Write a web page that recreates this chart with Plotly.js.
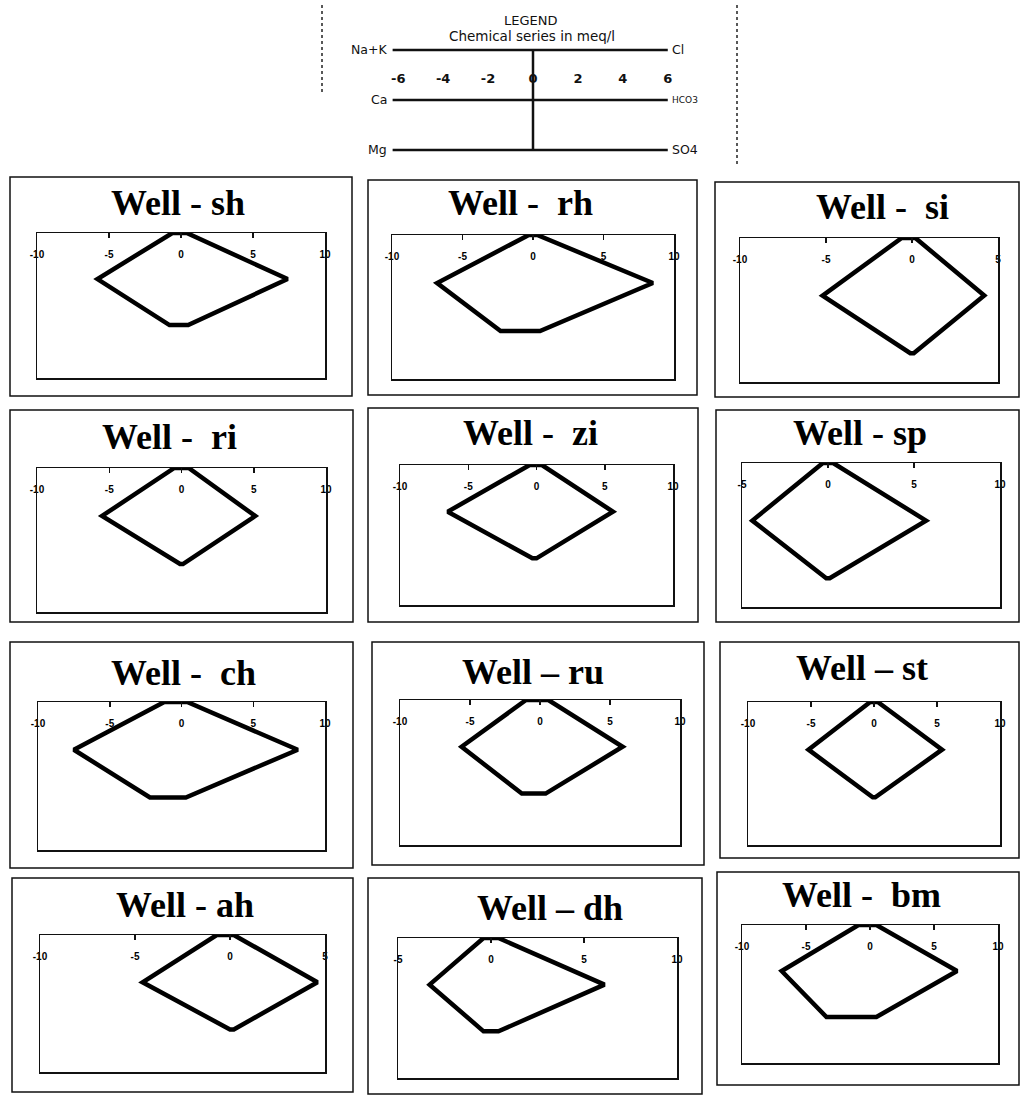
<!DOCTYPE html>
<html>
<head>
<meta charset="utf-8">
<script src="https://cdn.plot.ly/plotly-3.0.1.min.js"></script>
<style>
  body { margin: 0; background: #fff; }
  #grafico { width: 1021px; height: 1095px; }
</style>
</head>
<body>
<div id="grafico"></div>
<script>
const pocos = ["sh", "rh", "si", "ri", "zi", "sp", "ch", "ru", "st", "ah", "dh", "bm"];
const titulos = ["Well - sh", "Well -\u00a0 rh", "Well -\u00a0 si", "Well -\u00a0 ri",
  "Well -\u00a0 zi", "Well - sp", "Well -\u00a0 ch", "Well \u2013 ru", "Well \u2013 st",
  "Well - ah", "Well \u2013 dh", "Well -\u00a0 bm"];

// cations (lado esquerdo)
const naK  = [0.6, 0.3, 0.6, 0.5, 0.5, 0.3, 1.2, 1.0, 0.3, 0.7, 0.4, 0.9];
const ca   = [5.8, 6.8, 5.2, 5.5, 6.5, 4.4, 7.5, 5.6, 5.2, 4.6, 3.3, 6.9];
const mg   = [0.8, 2.3, 0.1, 0.1, 0.3, 0.1, 2.2, 1.3, 0.1, 0.0, 0.4, 3.4];
// anions (lado direito)
const cl   = [0.4, 0.3, 0.2, 0.5, 0.4, 0.3, 0.4, 0.6, 0.3, 0.2, 0.4, 0.5];
const hco3 = [7.4, 8.5, 4.2, 5.1, 5.6, 5.7, 8.1, 5.9, 5.4, 4.6, 6.1, 6.8];
const so4  = [0.5, 0.5, 0.1, 0.1, 0.0, 0.1, 0.3, 0.4, 0.1, 0.2, 0.4, 0.5];

// escala de cada painel
const xMin = [-10, -10, -10, -10, -10, -5, -10, -10, -10, -10, -5, -10];
const xMax = [10, 10, 5, 10, 10, 10, 10, 10, 10, 5, 10, 10];
const yMin = [-0.15, 0, 0.5, 0, 0, 0.5, -0.1, -0.1, 0, 0.1, 0, 0];
const passoTick = 5;

// legenda
const legendaTicks = [-6, -4, -2, 0, 2, 4, 6];
const cationsNomes = ["Na+K", "Ca", "Mg"];
const anionsNomes = ["Cl", "HCO3", "SO4"];

/* ===== geometria (pixels da figura) ===== */
const W = 1021, H = 1095;
const molduras = [[10,177,352,396],[368,180,697,395],[715,182,1019,397],
  [10,410,353,622],[368,408,698,622],[716,410,1019,622],
  [10,642,353,868],[372,642,704,865],[720,642,1019,858],
  [12,878,353,1092],[368,878,702,1094],[717,872,1019,1085]];
const caixas = [[37,233,325,378],[392,235,674,379],[740,238,998,382],
  [37,468,326,612],[400,465,673,605],[742,463,1000,607],
  [38,702,325,850],[400,700,680,845],[748,702,1000,845],
  [40,935,325,1072],[398,938,677,1078],[742,925,998,1063]];
const posTitulo = [[178,203],[520,203],[882,207],[169,437],[530,433],[860,433],
  [183,673],[533,672],[862,668],[185,905],[550,908],[861,895]];

const px = (v) => v / W;
const py = (v) => 1 - v / H;

const traces = [];
const layout = {
  width: W, height: H,
  margin: { l: 0, r: 0, t: 0, b: 0 },
  paper_bgcolor: "#fff", plot_bgcolor: "rgba(0,0,0,0)",
  showlegend: false,
  shapes: [], annotations: [],
};

/* ===== legenda ===== */
const fonteLeg = { family: "DejaVu Sans", size: 12.5, color: "#111" };
layout.xaxis = { domain: [px(387), px(679)], range: [-6.5, 6.5], visible: false, fixedrange: true };
layout.yaxis = { domain: [py(175), py(25)], range: [0.5, 3.5], visible: false, fixedrange: true };
[3, 2, 1].forEach((nivel, i) => {
  traces.push({
    x: [legendaTicks[0] - 0.25, legendaTicks[legendaTicks.length - 1]],
    y: [nivel, nivel], xaxis: "x", yaxis: "y",
    mode: "lines", line: { color: "#111", width: 2.5 }, hoverinfo: "skip",
  });
  layout.annotations.push({
    xref: "x", yref: "y", x: legendaTicks[0] - 0.4, y: nivel, text: cationsNomes[i],
    xanchor: "right", yanchor: "middle", showarrow: false, font: fonteLeg,
  });
  layout.annotations.push({
    xref: "x", yref: "y", x: legendaTicks[legendaTicks.length - 1] + 0.1, y: nivel,
    text: anionsNomes[i], xanchor: "left", yanchor: "middle", showarrow: false,
    font: { family: "DejaVu Sans", size: i === 1 ? 9 : 12.5, color: "#111" },
  });
});
traces.push({
  x: [0, 0], y: [3, 1], xaxis: "x", yaxis: "y",
  mode: "lines", line: { color: "#111", width: 2.5 }, hoverinfo: "skip",
});
traces.push({
  x: legendaTicks, y: legendaTicks.map(() => 2.4), xaxis: "x", yaxis: "y",
  mode: "text", text: legendaTicks.map(String),
  textfont: { family: "DejaVu Sans", size: 13, color: "#111", weight: "bold" },
  cliponaxis: false, hoverinfo: "skip",
});
layout.annotations.push({
  xref: "paper", yref: "paper", x: px(530), y: py(20), text: "LEGEND",
  showarrow: false, xanchor: "center", yanchor: "middle",
  font: { family: "DejaVu Sans", size: 13, color: "#111" },
});
layout.annotations.push({
  xref: "paper", yref: "paper", x: px(532), y: py(36), text: "Chemical series in meq/l",
  showarrow: false, xanchor: "center", yanchor: "middle",
  font: { family: "DejaVu Sans", size: 13.5, color: "#111" },
});
// bordas pontilhadas da caixa da legenda
[[322, 5, 95], [737, 5, 165]].forEach(([x, y0, y1]) => {
  layout.shapes.push({
    type: "line", xref: "paper", yref: "paper", x0: px(x), x1: px(x), y0: py(y0), y1: py(y1),
    line: { color: "#222", width: 1.5, dash: "dot" },
  });
});

/* ===== paineis ===== */
pocos.forEach((poco, i) => {
  const n = i + 2;
  const xa = "x" + n, ya = "y" + n;
  const [l, t, r, b] = caixas[i];

  const ticks = [];
  for (let v = xMin[i]; v <= xMax[i]; v += passoTick) ticks.push(v);
  const internos = ticks.filter((v) => v > xMin[i] && v < xMax[i]);

  layout["xaxis" + n] = {
    domain: [px(l), px(r)], range: [xMin[i], xMax[i]], anchor: ya,
    side: "top", showline: true, mirror: true, linecolor: "#111", linewidth: 1.5,
    ticks: "inside", ticklen: 5, tickwidth: 1.5, tickcolor: "#111",
    tickmode: "array", tickvals: internos, showticklabels: false,
    showgrid: false, zeroline: false, fixedrange: true,
  };
  layout["yaxis" + n] = {
    domain: [py(b), py(t)], range: [yMin[i], 3], anchor: xa,
    showline: true, mirror: true, linecolor: "#111", linewidth: 1.5,
    ticks: "", showticklabels: false, showgrid: false, zeroline: false, fixedrange: true,
  };

  // poligono de Stiff
  traces.push({
    x: [-naK[i], -ca[i], -mg[i], so4[i], hco3[i], cl[i], -naK[i]],
    y: [3, 2, 1, 1, 2, 3, 3],
    xaxis: xa, yaxis: ya, mode: "lines",
    line: { color: "#000", width: 4.5 }, cliponaxis: false, hoverinfo: "skip",
  });

  // rotulos da escala, logo abaixo da borda superior
  const pxPorUnidade = (b - t) / (3 - yMin[i]);
  traces.push({
    x: ticks, y: ticks.map(() => 3 - 22 / pxPorUnidade),
    xaxis: xa, yaxis: ya, mode: "text", text: ticks.map(String),
    textfont: { family: "Liberation Sans", size: 10, color: "#000", weight: "bold" },
    cliponaxis: false, hoverinfo: "skip",
  });

  const [fl, ft, fr, fb] = molduras[i];
  layout.shapes.push({
    type: "rect", xref: "paper", yref: "paper",
    x0: px(fl), x1: px(fr), y0: py(fb), y1: py(ft),
    line: { color: "#111", width: 1.5 },
  });

  layout.annotations.push({
    xref: "paper", yref: "paper", x: px(posTitulo[i][0]), y: py(posTitulo[i][1]),
    text: "<b>" + titulos[i] + "</b>", showarrow: false,
    xanchor: "center", yanchor: "middle",
    font: { family: "Liberation Serif", size: 36, color: "#000" },
  });
});

Plotly.newPlot("grafico", traces, layout, { displayModeBar: false, staticPlot: true });
</script>
</body>
</html>
